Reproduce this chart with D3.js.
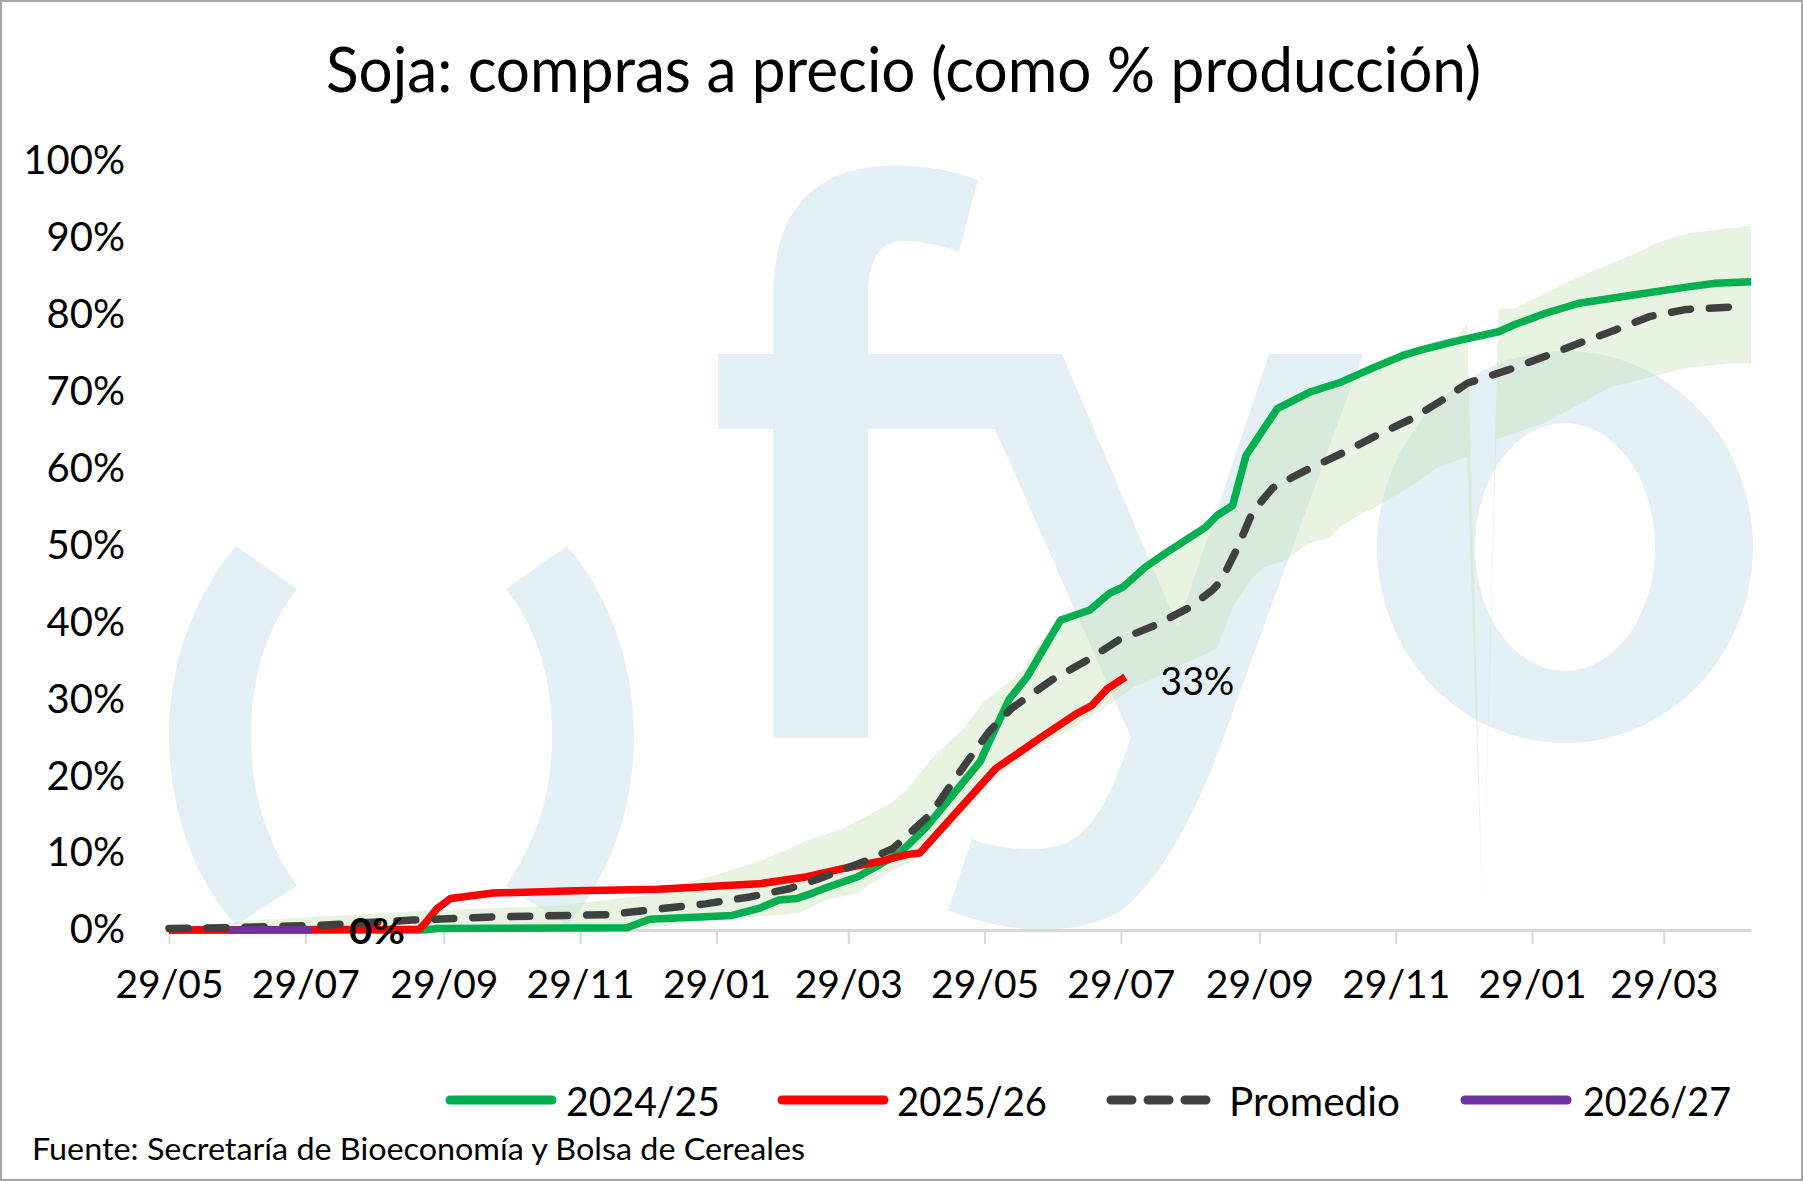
<!DOCTYPE html>
<html>
<head>
<meta charset="utf-8">
<script src="https://cdn.jsdelivr.net/npm/d3@7"></script>
<style>
  body { margin: 0; background: #fff; }
  svg { display: block; font-family: Lato, "Open Sans", sans-serif; }
</style>
</head>
<body>
<div id="chart"></div>
<script>
// Datos (dias desde el 29/05 de inicio de campaña, valores en % de la produccion)
var diasVerde = [0,114,120,205,215,252,264,273,281,288,295,308,315,327,339,363,366,376,384,399,406,412,421,427,437,446,464,469,476,482,496,511,525,538,553,560,575,595,602,616,631,656,679,692,708];
var valVerde = [0,0,0.2,0.3,1.4,1.9,2.8,3.9,4.1,4.8,5.6,6.9,8.0,10.0,13.4,21.9,23.8,30.0,32.9,40.3,41.0,41.6,43.8,44.6,47.2,49.0,52.4,53.9,55.2,61.7,67.8,70.0,71.3,73.0,74.8,75.4,76.5,77.8,78.7,80.2,81.5,82.6,83.6,84.1,84.3];

var diasRojo = [0,112,115,120,126,145,182,219,264,285,305,318,330,336,370,390,406,413,420,428];
var valRojo = [0,0.1,1.0,2.8,4.1,4.8,5.1,5.3,6.0,6.9,8.2,8.9,9.8,10.0,21.0,25.0,28.1,29.2,31.4,32.9];

var diasProm = [0,27,67,109,145,197,212,240,260,278,293,312,324,341,355,367,377,395,411,425,442,457,467,471,478,485,494,503,509,525,541,557,572,581,599,615,631,647,663,679,705];
var valProm = [0.2,0.3,0.6,1.3,1.7,2.0,2.5,3.4,4.3,5.4,6.9,9.0,10.6,15.1,21.0,25.8,28.8,32.5,35.1,37.7,39.7,42.0,44.2,45.5,49.6,54.4,57.5,58.9,59.8,62.0,64.4,66.6,69.3,71.1,72.8,74.5,76.3,78.0,79.8,80.7,81.1];

var diasMorado = [27,64];
var valMorado = [0,0];

// rango (max / min de campañas anteriores)
var diasMax = [0,41,115,175,213,229,245,264,287,302,323,330,342,355,365,381,388,399,406,412,421,427,437,446,464,469,476,482,496,511,525,538,553,560,575,581,588,595,602,629,658,666,680,705,708];
var valMax = [0.3,1.3,2.5,3.2,4.5,5.9,7.2,8.9,11.8,13.2,16.5,18.2,22.5,26.0,29.8,33.4,36.7,40.3,41.0,41.6,43.8,44.6,47.2,49.0,52.4,53.9,55.2,61.7,67.8,70.0,71.3,73.0,74.8,75.4,76.5,78.9,1.0,80.8,80.8,84.7,88.2,89.4,90.6,91.5,91.5];
var diasMin = [0,211,233,282,294,308,321,336,370,390,406,417,432,469,476,484,490,500,510,520,524,533,540,555,568,581,588,594,615,629,645,663,679,701,708];
var valMin = [0,0,1.0,2.2,3.9,4.8,7.3,9.5,20.0,24.0,26.5,28.6,31.6,36.6,42.0,45.5,47.2,48.1,50.3,51.1,52.4,54.0,55.0,57.6,60.2,61.5,1.0,63.8,65.9,68.0,70.6,71.9,73.1,73.7,73.7];

var tickFechas = ["2024-05-29","2024-07-29","2024-09-29","2024-11-29","2025-01-29","2025-03-29","2025-05-29","2025-07-29","2025-09-29","2025-11-29","2026-01-29","2026-03-29"];
var tickLabels = ["29/05","29/07","29/09","29/11","29/01","29/03","29/05","29/07","29/09","29/11","29/01","29/03"];
var yTicks = [0,10,20,30,40,50,60,70,80,90,100];

var series = ["2024/25","2025/26","Promedio","2026/27"];
var colores = ["#00b050","#ff0000","#404040","#7030a0"];

var titulo = "Soja: compras a precio (como % producción)";
var fuente = "Fuente: Secretaría de Bioeconomía y Bolsa de Cereales";

var svgWidth = 1803, svgHeight = 1181;
var margin = { top: 161, right: 52, bottom: 251, left: 169 };
var width = svgWidth - margin.left - margin.right;
var height = svgHeight - margin.top - margin.bottom;

var parse = d3.timeParse("%Y-%m-%d");
var inicio = parse("2024-05-29");
var fin = d3.timeDay.offset(inicio, 708);

function pares(dias, vals) {
    return dias.map(function(d, i) { return { fecha: d3.timeDay.offset(inicio, d), v: vals[i] }; });
}

var svg = d3.select("#chart").append("svg")
    .attr("width", svgWidth)
    .attr("height", svgHeight);

svg.append("rect")
    .attr("x", 1).attr("y", 1)
    .attr("width", svgWidth - 2).attr("height", svgHeight - 2)
    .attr("fill", "#fff").attr("stroke", "#a6a6a6").attr("stroke-width", 2);

// marca de agua "( ) fyo"
var wm = svg.append("g").attr("fill", "#e3f0f5");
wm.append("path").attr("d", "M236,546 C190,600 169,670 169,736 C169,810 195,880 236,925 L297,886 C265,840 251,790 251,736 C251,680 265,630 297,589 Z");
wm.append("path").attr("d", "M567,546 C613,600 634,670 634,736 C634,810 608,880 567,925 L506,886 C538,840 552,790 552,736 C552,680 538,630 506,589 Z");
wm.append("path").attr("d", "M773,738 L773,298 C773,240 790,200 832,178 C870,160 930,162 978,180 L959,251 C930,243 900,236 885,246 C872,256 868,275 868,293 L868,738 Z");
wm.append("path").attr("d", "M718,354 L1062,354 L1178,627 L1269,354 L1363,354 L1220,747 C1195,815 1160,880 1122,910 C1075,940 1000,932 948,910 L972,839 C1000,850 1050,855 1073,839 C1100,825 1120,770 1131,737 L995,429 L718,429 Z");
wm.append("path").attr("fill-rule", "evenodd")
    .attr("d", "M1377,547 a188,196 0 1,0 376,0 a188,196 0 1,0 -376,0 Z M1475,547 a90,124 0 1,0 180,0 a90,124 0 1,0 -180,0 Z");

var chartGroup = svg.append("g")
    .attr("transform", `translate(${margin.left}, ${margin.top})`);

var xScale = d3.scaleTime().domain([inicio, fin]).range([0, width]);
var yScale = d3.scaleLinear().domain([0, 100]).range([height, 0]);

// banda min-max
var banda = pares(diasMax, valMax).concat(pares(diasMin, valMin).reverse());
var lineGen = d3.line()
    .x(d => xScale(d.fecha))
    .y(d => yScale(d.v));

chartGroup.append("path")
    .attr("d", lineGen(banda) + "Z")
    .attr("fill", "#c6e0b4")
    .attr("fill-opacity", 0.4);

// eje x
var bottomAxis = d3.axisBottom(xScale)
    .tickValues(tickFechas.map(parse))
    .tickFormat((d, i) => tickLabels[i])
    .tickSize(14)
    .tickSizeOuter(0)
    .tickPadding(26);

var xAxis = chartGroup.append("g")
    .attr("transform", `translate(0, ${height})`)
    .call(bottomAxis);
xAxis.select(".domain").attr("stroke", "#d9d9d9").attr("stroke-width", 3);
xAxis.selectAll(".tick line").attr("stroke", "#d9d9d9").attr("stroke-width", 2);
xAxis.selectAll("text").attr("font-size", 39).attr("fill", "#000").attr("font-family", "Lato");

// eje y (solo etiquetas)
var leftAxis = d3.axisLeft(yScale)
    .tickValues(yTicks)
    .tickFormat(d => d + "%")
    .tickSize(0)
    .tickPadding(44);
var yAxis = chartGroup.append("g").call(leftAxis);
yAxis.select(".domain").remove();
yAxis.selectAll("text").attr("font-size", 40).attr("fill", "#000").attr("font-family", "Lato");

// lineas
var datos = [pares(diasVerde, valVerde), pares(diasRojo, valRojo), pares(diasProm, valProm), pares(diasMorado, valMorado)];

datos.forEach(function(serie, i) {
    chartGroup.append("path")
        .datum(serie)
        .attr("d", lineGen)
        .attr("fill", "none")
        .attr("stroke", colores[i])
        .attr("stroke-width", 7.5)
        .attr("stroke-linejoin", "round")
        .attr("stroke-linecap", i == 2 ? "round" : "butt")
        .attr("stroke-dasharray", i == 2 ? "19,19" : null);
});

// etiquetas de ultimo valor
var ultRojo = datos[1][datos[1].length - 1];
chartGroup.append("text")
    .attr("x", xScale(ultRojo.fecha) + 35)
    .attr("y", yScale(ultRojo.v) + 18)
    .attr("font-size", 38)
    .attr("textLength", 74)
    .attr("lengthAdjust", "spacingAndGlyphs")
    .text(Math.round(ultRojo.v) + "%");

var ultMorado = datos[3][datos[3].length - 1];
chartGroup.append("text")
    .attr("x", xScale(ultMorado.fecha) + 37)
    .attr("y", yScale(ultMorado.v) + 14)
    .attr("font-size", 36)
    .attr("font-weight", "bold")
    .attr("textLength", 56)
    .attr("lengthAdjust", "spacingAndGlyphs")
    .text(Math.round(ultMorado.v) + "%");

// titulo
svg.append("text")
    .attr("x", 326).attr("y", 92)
    .attr("font-size", 62)
    .attr("textLength", 1155)
    .attr("lengthAdjust", "spacingAndGlyphs")
    .text(titulo);

// leyenda
var legX = [446, 778, 1107, 1461];
var legText = [566, 897, 1229, 1583];
var legW = [154, 150, 171, 148];
var legend = svg.append("g");
series.forEach(function(s, i) {
    legend.append("line")
        .attr("x1", legX[i] + 4).attr("x2", legX[i] + 106)
        .attr("y1", 1100).attr("y2", 1100)
        .attr("stroke", colores[i])
        .attr("stroke-width", 9)
        .attr("stroke-linecap", "round")
        .attr("stroke-dasharray", i == 2 ? "21,16" : null);
    legend.append("text")
        .attr("x", legText[i]).attr("y", 1116)
        .attr("font-size", 40)
        .attr("textLength", legW[i])
        .attr("lengthAdjust", "spacingAndGlyphs")
        .text(s);
});

// fuente
svg.append("text")
    .attr("x", 32).attr("y", 1160)
    .attr("font-size", 31)
    .attr("textLength", 773)
    .attr("lengthAdjust", "spacingAndGlyphs")
    .text(fuente);
</script>
</body>
</html>
